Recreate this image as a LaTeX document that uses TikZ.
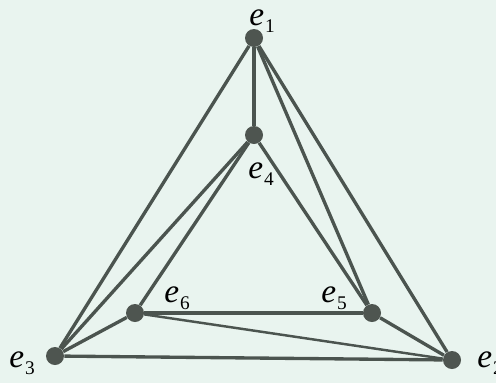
\documentclass[tikz,border=0pt]{standalone}
\usepackage{fontspec}
\setmainfont{Liberation Serif}
\definecolor{bgMint}{HTML}{E9F4EF}
\definecolor{edgeGrey}{HTML}{4B544F}
\definecolor{vertexGrey}{HTML}{4E5550}
\usepackage{tikz}
\usetikzlibrary{positioning}
\newcommand{\elab}[1]{\textit{e}\kern0.5pt\raisebox{-4pt}{\fontsize{11}{11}\selectfont #1}}

\begin{document}
\begin{tikzpicture}[x=0.02cm, y=-0.02cm,
    vertex/.style={circle, fill=vertexGrey, inner sep=0pt, minimum size=0.36cm},
    edge/.style={draw=edgeGrey, line width=1.9pt},
    vlabel/.style={inner sep=0pt, font=\fontsize{19}{22}\selectfont}]
  % background
  \fill[bgMint] (0,0) rectangle (496,383);
  \useasboundingbox (0,0) rectangle (496,383);

  % vertices
  \node[vertex] (e1) at (254,38) {};
  \node[vertex] (e4) at (254,135) {};
  \node[vertex] (e6) at (135,313) {};
  \node[vertex] (e5) at (372,313) {};
  \node[vertex] (e3) at (55,356) {};
  \node[vertex] (e2) at (452,360) {};

  % labels
  \node[vlabel] (l1) at (262,21) {\elab{1}};
  \node[vlabel] (l4) at (261,174) {\elab{4}};
  \node[vlabel] (l6) at (177,298) {\elab{6}};
  \node[vlabel] (l5) at (334,298) {\elab{5}};
  \node[vlabel] (l3) at (22,363) {\elab{3}};
  \node[vlabel] (l2) at (490,363) {\elab{2}};

  % edges
  \draw[edge, line width=2.5pt] (e1) -- (e4);
  \draw[edge] (e1) -- (e3);
  \draw[edge] (e1) -- (e2);
  \draw[edge] (e1) -- (e5);
  \draw[edge] (e4) -- (e3);
  \draw[edge] (e4) -- (e6);
  \draw[edge] (e4) -- (e5);
  \draw[edge] (e6) -- (e5);
  \draw[edge] (e6) -- (e3);
  \draw[edge, line width=1.4pt] (e6) -- (e2);
  \draw[edge] (e3) -- (e2);
  \draw[edge] (e5) -- (e2);
\end{tikzpicture}
\end{document}
